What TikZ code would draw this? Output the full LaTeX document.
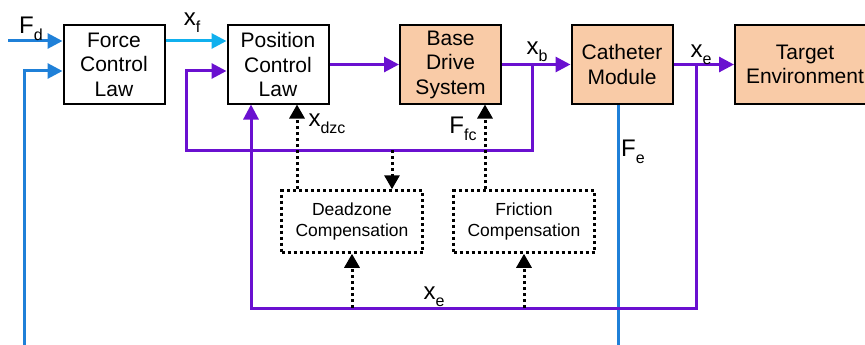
\documentclass[tikz,border=0pt]{standalone}
\usepackage{fontspec}
\setmainfont{Liberation Sans}
\usetikzlibrary{arrows.meta}
\usetikzlibrary{positioning}
\definecolor{sigblue}{HTML}{1F80D8}
\definecolor{sigcyan}{HTML}{10B0EE}
\definecolor{sigviolet}{HTML}{6A10D0}
\definecolor{plantfill}{HTML}{F9CBA7}
\newcommand*{\sig}[2]{#1\raisebox{-0.3em}{\fontsize{16}{16}\selectfont #2}}

\begin{document}
\begin{tikzpicture}[x=1pt,y=-1pt,
		block/.style = {draw, line width=2pt, minimum width=101pt, minimum height=78pt,
		                inner sep=0pt, align=center, font=\fontsize{21}{24.5}\selectfont},
		plant/.style = {block, fill=plantfill},
		comp/.style = {draw, line width=2.5pt, dash pattern=on 3pt off 3pt,
		               minimum width=141pt, minimum height=62pt, inner sep=0pt,
		               align=center, font=\fontsize{17.5}{21}\selectfont},
		wire/.style = {line width=3pt, -{Triangle[length=15pt,width=15pt]}},
		dotwire/.style = {line width=3pt, dash pattern=on 3pt off 3pt,
		                  -{Triangle[length=14pt,width=15pt]}},
		lbl/.style = {inner sep=0pt, font=\fontsize{24}{24}\selectfont}]
		\useasboundingbox (0,0) rectangle (865,345);
		\clip (0,0) rectangle (865,345);
		% blocks
		\node[block] (fcl) at (114,64.5) {Force\\Control\\Law};
		\node[block] (pcl) at (278,64.5) {Position\\Control\\Law};
		\node[plant] (bds) at (450.5,64.5) {Base\\Drive\\System};
		\node[plant] (cm) at (622,64.5) {Catheter\\Module};
		\node[plant, minimum width=140pt] (env) at (805,64.5) {Target\\Environment};
		\node[comp] (dzc) at (352,221.5) {Deadzone\\Compensation};
		\node[comp] (ffc) at (524,221.5) {Friction\\Compensation};
		% free ends and taps
		\coordinate (fdin) at (8,41);
		\coordinate (fbin) at (24,345);
		\coordinate (xb) at (532,64.5);
		\coordinate (xe) at (696,64.5);
		\coordinate (xelow) at (696,308);
		\coordinate (febot) at (618,345);
		% force loop
		\draw[wire, sigblue] (fdin) -- (fdin -| fcl.west);
		\draw[wire, sigblue] (fbin) |- ([yshift=-6.5pt]fcl.west);
		\draw[wire, sigcyan] (fcl.east |- fdin) -- (pcl.west |- fdin);
		\draw[line width=3pt, sigblue] ([xshift=-4pt]cm.south) -- (febot);
		% position loop
		\draw[wire, sigviolet] (pcl.east) -- (bds.west);
		\draw[wire, sigviolet] (bds.east) -- (cm.west);
		\draw[wire, sigviolet] (cm.east) -- (env.west);
		\draw[wire, sigviolet] (xb) -- ++(0,85.5) coordinate (xbfb)
			-| ([xshift=-40pt,yshift=-6.5pt]pcl.west) -- ([yshift=-6.5pt]pcl.west);
		\draw[wire, sigviolet] (xe) -- (xelow) -| ([xshift=-27pt]pcl.south);
		% compensation
		\draw[dotwire] ([xshift=-55pt]dzc.north) -- ([xshift=-55pt]dzc.north |- pcl.south);
		\draw[dotwire] ([xshift=40pt]dzc.north |- xbfb) -- ([xshift=40pt]dzc.north);
		\draw[dotwire] (dzc.south |- xelow) -- (dzc.south);
		\draw[dotwire] ([xshift=-39pt]ffc.north) -- ([xshift=-39pt]ffc.north |- bds.south);
		\draw[dotwire] (ffc.south |- xelow) -- (ffc.south);
		% signal names
		\node[lbl] (fdname) at (31,29) {\sig{F}{d}};
		\node[lbl] (xfname) at (192,23) {\sig{x}{f}};
		\node[lbl] (xdzcname) at (327,124) {\sig{x}{dzc}};
		\node[lbl] (ffcname) at (463,129) {\sig{F}{fc}};
		\node[lbl] (xbname) at (537,52) {\sig{x}{b}};
		\node[lbl] (xename) at (701,55) {\sig{x}{e}};
		\node[lbl] (fename) at (633,152) {\sig{F}{e}};
		\node[lbl] (xelowname) at (434,297) {\sig{x}{e}};
\end{tikzpicture}
\end{document}
